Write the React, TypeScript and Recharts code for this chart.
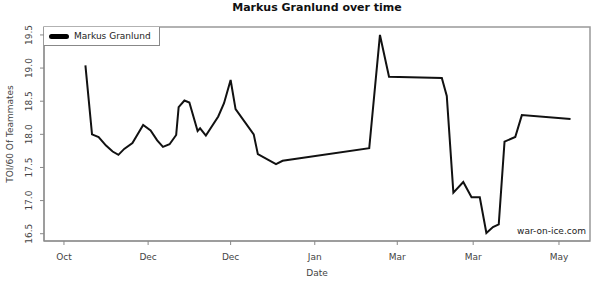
import React from "react"
import { LineChart, Line, XAxis, YAxis, ReferenceArea } from "recharts"

// days since Oct 1 (approx.) and TOI/60 of teammates
const days = [13, 17, 21, 25.5, 29.5, 33, 36.5, 41.5, 48, 52.5, 56.5, 60, 64, 68, 69.5, 73, 76, 81, 82.5, 86, 93.5, 97, 101, 104, 115, 117.5, 128.5, 132.5, 185, 191.5, 197, 229, 232, 236, 242, 247, 252, 256, 260, 263.5, 267, 273.5, 277.5, 307]
const toi = [19.04, 18.0, 17.96, 17.83, 17.74, 17.69, 17.78, 17.87, 18.14, 18.06, 17.91, 17.81, 17.85, 17.99, 18.41, 18.51, 18.48, 18.05, 18.09, 17.98, 18.27, 18.47, 18.82, 18.38, 18.0, 17.7, 17.55, 17.6, 17.79, 19.5, 18.87, 18.85, 18.58, 17.12, 17.28, 17.05, 17.05, 16.51, 16.6, 16.64, 17.89, 17.96, 18.29, 18.23]

const xTicks = [0, 51, 101, 152, 202, 248, 300]
const xTickLabels = ["Oct", "Dec", "Dec", "Jan", "Mar", "Mar", "May"]
const yTicks = [16.5, 17, 17.5, 18, 18.5, 19, 19.5]

const data = days.map((d, i) => ({ day: d, toi: toi[i] }))

const FONT = "DejaVu Sans, sans-serif"

const XTick = ({ x, y, payload }: any) => {
  const i = xTicks.indexOf(payload.value)
  return (
    <text x={x} y={y + 13} textAnchor="middle" fontSize={9} fill="#444" fontFamily={FONT}>
      {xTickLabels[i]}
    </text>
  )
}

const YTick = ({ x, y, payload }: any) => (
  <text
    x={x - 6}
    y={y}
    transform={`rotate(-90 ${x - 6} ${y})`}
    textAnchor="middle"
    fontSize={9}
    fill="#444"
    fontFamily={FONT}
  >
    {payload.value.toFixed(1)}
  </text>
)

export default function App() {
  return (
    <div style={{ position: "absolute", left: 0, top: 0, width: 600, height: 286, background: "#fff", fontFamily: FONT }}>
      <div style={{ position: "absolute", top: 1, left: 44, width: 546, textAlign: "center", fontSize: 11, fontWeight: "bold", color: "#111" }}>
        Markus Granlund over time
      </div>
      <LineChart width={600} height={286} data={data} margin={{ top: 27, right: 10, bottom: 0, left: 0 }}>
        <XAxis
          dataKey="day"
          type="number"
          domain={[-12.1, 318.8]}
          ticks={xTicks}
          tick={<XTick />}
          tickSize={4}
          height={45}
          axisLine={{ stroke: "#888" }}
          tickLine={{ stroke: "#888" }}
          allowDataOverflow
        />
        <YAxis
          type="number"
          domain={[16.39, 19.62]}
          ticks={yTicks}
          tick={<YTick />}
          width={44}
          tickSize={4}
          axisLine={{ stroke: "#888" }}
          tickLine={{ stroke: "#888" }}
          allowDataOverflow
        />
        <ReferenceArea x1={-12.1} x2={318.8} y1={16.39} y2={19.62} fill="none" stroke="#999" strokeWidth={1.5} />
        <Line dataKey="toi" stroke="#111" strokeWidth={2} dot={false} isAnimationActive={false} />
      </LineChart>
      <div style={{ position: "absolute", left: 44, top: 268, width: 546, textAlign: "center", fontSize: 9, color: "#444" }}>Date</div>
      <div
        style={{
          position: "absolute",
          left: 10,
          top: 134,
          transform: "translate(-50%, -50%) rotate(-90deg)",
          whiteSpace: "nowrap",
          fontSize: 9,
          color: "#444",
        }}
      >
        TOI/60 Of Teammates
      </div>
      <div
        style={{
          position: "absolute",
          left: 44,
          top: 27,
          width: 116,
          height: 19,
          border: "1px solid #888",
          borderTop: "none",
          borderLeft: "none",
          boxSizing: "border-box",
          background: "#fff",
          display: "flex",
          alignItems: "center",
          fontSize: 9,
          color: "#222",
        }}
      >
        <span style={{ display: "inline-block", width: 20, height: 5, borderRadius: 3, background: "#000", marginLeft: 5, marginRight: 5 }} />
        Markus Granlund
      </div>
      <div style={{ position: "absolute", right: 14, top: 226, fontSize: 9, color: "#222" }}>war-on-ice.com</div>
    </div>
  )
}
